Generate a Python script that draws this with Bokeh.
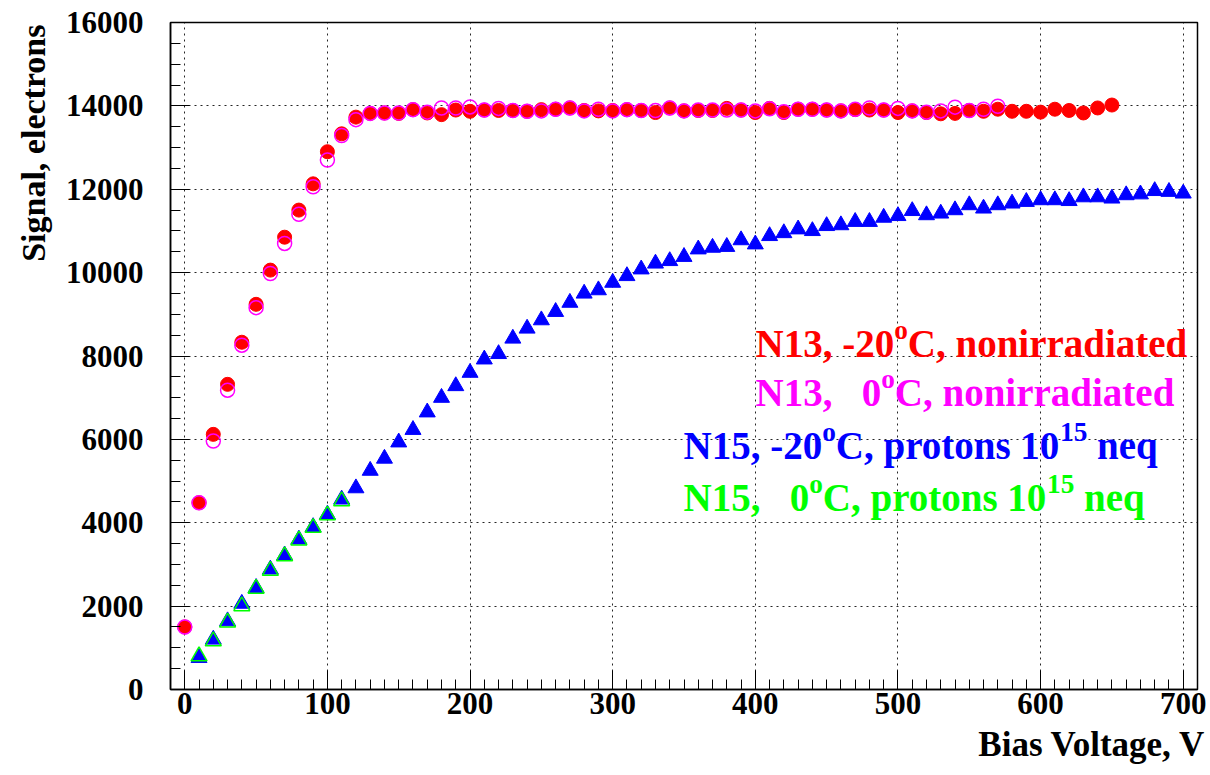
from bokeh.plotting import figure
from bokeh.models import Range1d, SingleIntervalTicker, Label, Title
from bokeh.embed import file_html
from bokeh.resources import INLINE

# ---------------- data ----------------
volt_n13_m20 = [0, 10, 20, 30, 40, 50, 60, 70, 80, 90, 100, 110, 120, 130, 140, 150, 160, 170,
                180, 190, 200, 210, 220, 230, 240, 250, 260, 270, 280, 290, 300, 310, 320, 330,
                340, 350, 360, 370, 380, 390, 400, 410, 420, 430, 440, 450, 460, 470, 480, 490,
                500, 510, 520, 530, 540, 550, 560, 570, 580, 590, 600, 610, 620, 630, 640, 650]
sig_n13_m20 = [1500, 4480, 6120, 7320, 8330, 9240, 10060, 10850, 11500, 12130, 12900, 13330,
               13730, 13820, 13830, 13820, 13910, 13830, 13790, 13900, 13870, 13900, 13890, 13890,
               13870, 13910, 13920, 13950, 13890, 13880, 13890, 13910, 13890, 13840, 13950, 13880,
               13890, 13890, 13940, 13900, 13840, 13940, 13840, 13920, 13920, 13900, 13880, 13910,
               13900, 13900, 13840, 13880, 13840, 13810, 13820, 13890, 13870, 13920, 13870, 13870,
               13850, 13920, 13890, 13830, 13950, 14020]

volt_n13_0 = [0, 10, 20, 30, 40, 50, 60, 70, 80, 90, 100, 110, 120, 130, 140, 150, 160, 170,
              180, 190, 200, 210, 220, 230, 240, 250, 260, 270, 280, 290, 300, 310, 320, 330,
              340, 350, 360, 370, 380, 390, 400, 410, 420, 430, 440, 450, 460, 470, 480, 490,
              500, 510, 520, 530, 540, 550, 560, 570]
sig_n13_0 = [1500, 4480, 5960, 7180, 8260, 9160, 9980, 10700, 11400, 12060, 12700, 13290,
             13670, 13820, 13830, 13830, 13910, 13850, 13950, 13950, 13975, 13900, 13940, 13890,
             13870, 13880, 13920, 13950, 13880, 13920, 13880, 13910, 13890, 13890, 13950, 13880,
             13900, 13900, 13900, 13900, 13880, 13930, 13860, 13920, 13920, 13900, 13880, 13920,
             13950, 13900, 13940, 13880, 13850, 13880, 13970, 13890, 13920, 13990]

volt_n15_m20 = [10, 20, 30, 40, 50, 60, 70, 80, 90, 100, 110, 120, 130, 140, 150, 160, 170, 180,
                190, 200, 210, 220, 230, 240, 250, 260, 270, 280, 290, 300, 310, 320, 330, 340,
                350, 360, 370, 380, 390, 400, 410, 420, 430, 440, 450, 460, 470, 480, 490, 500,
                510, 520, 530, 540, 550, 560, 570, 580, 590, 600, 610, 620, 630, 640, 650, 660,
                670, 680, 690, 700]
sig_n15_m20 = [760, 1200, 1640, 2060, 2440, 2880, 3220, 3600, 3900, 4200, 4560, 4830, 5250, 5540,
               5930, 6230, 6650, 7000, 7280, 7600, 7920, 8050, 8420, 8660, 8860, 9060, 9280, 9500,
               9580, 9760, 9920, 10080, 10220, 10280, 10380, 10560, 10600, 10620, 10780, 10680,
               10880, 10950, 11040, 11000, 11120, 11140, 11220, 11220, 11320, 11360, 11480, 11380,
               11420, 11500, 11620, 11540, 11620, 11660, 11700, 11740, 11740, 11720, 11810, 11810,
               11780, 11860, 11880, 11960, 11940, 11900]

volt_n15_0 = [10, 20, 30, 40, 50, 60, 70, 80, 90, 100, 110]
sig_n15_0 = [800, 1160, 1610, 2000, 2420, 2850, 3200, 3580, 3880, 4180, 4520]

x_title = "Bias Voltage, V"
y_title = "Signal, electrons"

legend_lines = [
    ("#FF0000", [("N13, -20", "n"), ("o", "s"), ("C, nonirradiated", "n")]),
    ("#FF00FF", [("N13,", "n"), ("   ", "n"), ("0", "n"), ("o", "s"), ("C, nonirradiated", "n")]),
    ("#0000FF", [("N15, -20", "n"), ("o", "s"), ("C, protons 10", "n"), ("15", "s"), (" neq", "n")]),
    ("#00FF00", [("N15,", "n"), ("   ", "n"), ("0", "n"), ("o", "s"), ("C, protons 10", "n"), ("15", "s"), (" neq", "n")]),
]

# ---------------- figure ----------------
FONT = "Liberation Serif"

p = figure(width=1208, height=773, output_backend="svg", toolbar_location=None,
           x_range=Range1d(-10, 710), y_range=Range1d(0, 16000),
           min_border_left=170, min_border_right=11, min_border_top=22, min_border_bottom=84)
p.background_fill_color = "white"
p.border_fill_color = "white"
p.outline_line_color = "black"
p.outline_line_width = 1.5

xt = SingleIntervalTicker(interval=100, num_minor_ticks=10)
yt = SingleIntervalTicker(interval=2000, num_minor_ticks=4)
p.xaxis.ticker = xt
p.yaxis.ticker = yt
p.xgrid.ticker = xt
p.ygrid.ticker = yt

for g in (p.xgrid, p.ygrid):
    g.grid_line_color = "black"
    g.grid_line_dash = "2 4"
    g.grid_line_width = 1
    g.grid_line_alpha = 0.85

for ax in (p.xaxis, p.yaxis):
    ax.axis_line_color = "black"
    ax.axis_line_width = 1.5
    ax.major_tick_in = 19
    ax.major_tick_out = 0
    ax.minor_tick_in = 10
    ax.minor_tick_out = 0
    ax.major_tick_line_color = "black"
    ax.minor_tick_line_color = "black"
    ax.major_label_text_font = FONT
    ax.major_label_text_font_style = "bold"
    ax.major_label_text_font_size = "31px"
    ax.major_label_text_color = "black"
p.yaxis.major_label_standoff = 27
p.xaxis.major_label_standoff = 3

# ---------------- axis titles ----------------
p.add_layout(Title(text=x_title, align="right", offset=-8, standoff=13,
                   text_font=FONT, text_font_style="bold", text_font_size="35px",
                   text_color="black"), "below")
p.add_layout(Title(text=y_title, align="right", offset=2, standoff=22,
                   text_font=FONT, text_font_style="bold", text_font_size="34px",
                   text_color="black"), "left")

# ---------------- data marks ----------------
p.scatter(volt_n13_m20, sig_n13_m20, marker="circle", size=14,
          fill_color="#FF0000", line_color="#FF0000")
p.scatter(volt_n13_0, sig_n13_0, marker="circle", size=14,
          fill_color=None, line_color="#FF00FF", line_width=1.5)
p.scatter(volt_n15_m20, sig_n15_m20, marker="triangle", size=16,
          fill_color="#0000FF", line_color="#0000FF")
p.scatter(volt_n15_0, sig_n15_0, marker="triangle", size=16,
          fill_color=None, line_color="#00FF00", line_width=1.5)

# ---------------- legend texts ----------------
W = {' ': .25, ',': .25, '-': .333, 'C': .722, 'N': .722, 'a': .5, 'd': .556, 'e': .444,
     'i': .278, 'n': .556, 'o': .5, 'p': .556, 'q': .556, 'r': .444, 's': .389, 't': .333}
for d in "0123456789":
    W[d] = .5


def text_width(t, fs):
    return sum(W.get(c, .5) for c in t) * fs


LEG_FS = 39
SUP = 0.7
RAISE = 14
line_pos = [(585, 346), (585, 297), (513, 244), (513, 192)]

for (color, parts), (sx, sy) in zip(legend_lines, line_pos):
    x = sx
    for txt, kind in parts:
        fs = LEG_FS * SUP if kind == "s" else LEG_FS
        yy = sy + RAISE if kind == "s" else sy
        lead = len(txt) - len(txt.lstrip(" "))
        x += text_width(" " * lead, fs)
        body = txt.lstrip(" ")
        if body:
            p.add_layout(Label(x=x, y=yy, x_units="screen", y_units="screen", text=body,
                               text_font=FONT, text_font_style="bold",
                               text_font_size=f"{fs:.1f}px", text_color=color,
                               text_align="left", text_baseline="alphabetic"))
            x += text_width(body, fs)

open("out.html", "w").write(file_html(p, INLINE))
